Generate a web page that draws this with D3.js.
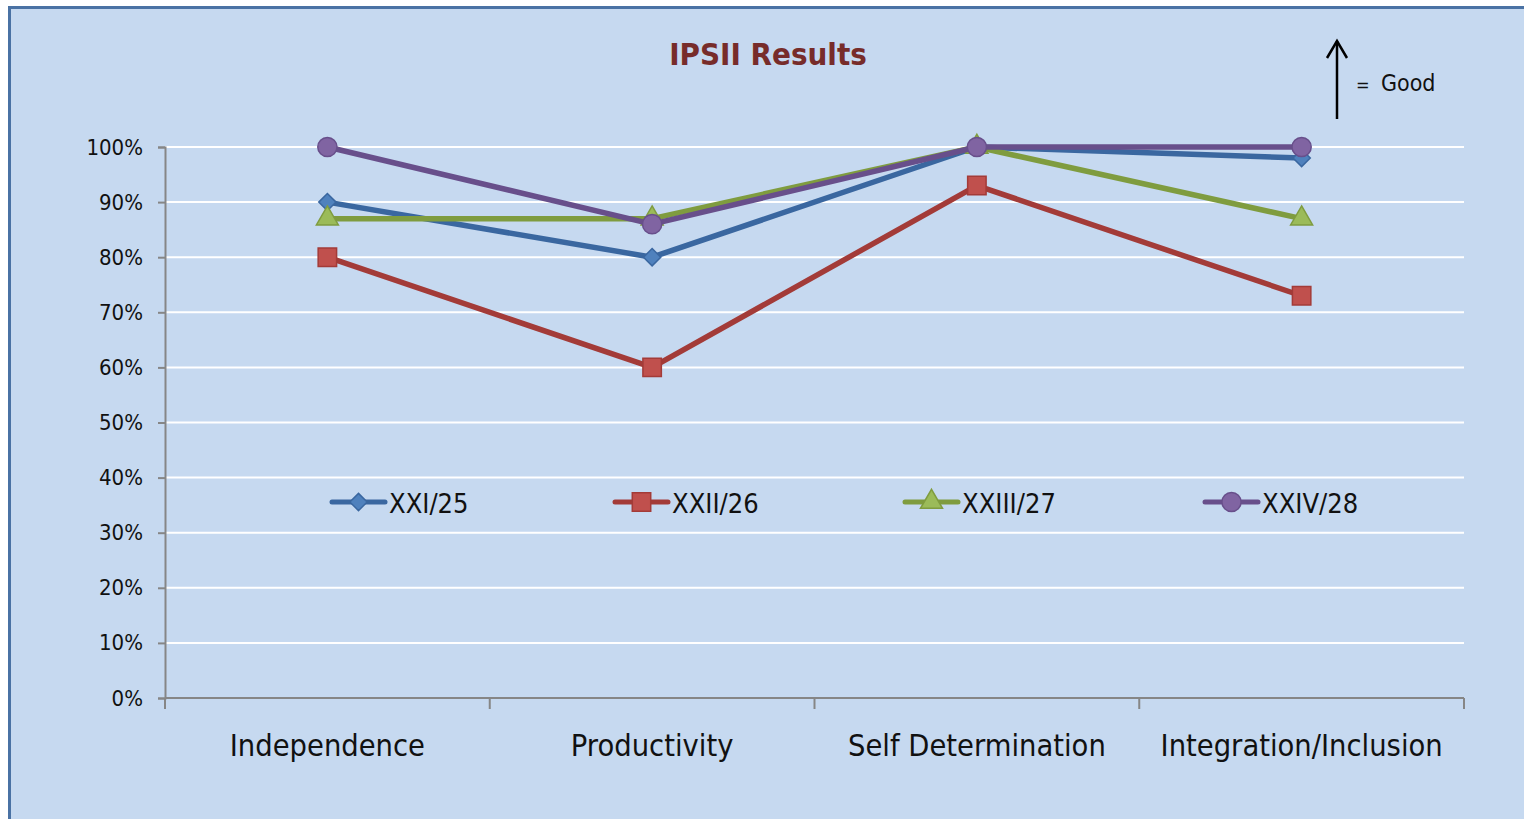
<!doctype html>
<html>
<head>
<script src="https://cdn.jsdelivr.net/npm/d3@7"></script>
<style>
  body { margin: 0; background: #fff; }
  svg { display: block; }
  text { font-family: "Liberation Sans Narrow", "DejaVu Sans Condensed", "Liberation Sans", sans-serif; }
</style>
</head>
<body>
<svg width="1524" height="819"></svg>
<script>
// chart data
const categories = ["Independence", "Productivity", "Self Determination", "Integration/Inclusion"];
const seriesNames = ["XXI/25", "XXII/26", "XXIII/27", "XXIV/28"];
const xxi25 = [90, 80, 100, 98];
const xxii26 = [80, 60, 93, 73];
const xxiii27 = [87, 87, 100, 87];
const xxiv28 = [100, 86, 100, 100];
const yTicks = [0, 10, 20, 30, 40, 50, 60, 70, 80, 90, 100];

const lineColors = ["#3a67a0", "#a33b38", "#7f9c3f", "#684f8b"];
const fillColors = ["#4f81bd", "#c0504d", "#9bbb59", "#8064a2"];
const symbols = [d3.symbolDiamond2, d3.symbolSquare, d3.symbolTriangle, d3.symbolCircle];
const symSize = [190, 340, 210, 290];

const series = [xxi25, xxii26, xxiii27, xxiv28].map((v, i) => ({name: seriesNames[i], values: v, i: i}));

const svg = d3.select("svg");

// panel background + border
svg.append("rect")
  .attr("x", 9.5).attr("y", 7.5).attr("width", 1530).attr("height", 830)
  .attr("fill", "#c6d9f0").attr("stroke", "#4a72a4").attr("stroke-width", 3);

const x = d3.scaleBand().domain(categories).range([165, 1464]);
const y = d3.scaleLinear().domain([0, 100]).range([698, 147]);

// gridlines
svg.append("g").selectAll("line")
  .data(yTicks.filter(d => d > 0))
  .enter().append("line")
    .attr("x1", 165).attr("x2", 1464)
    .attr("y1", d => y(d)).attr("y2", d => y(d))
    .attr("stroke", "#fff").attr("stroke-width", 2);

// y axis
const yAxis = svg.append("g").attr("transform", "translate(165,0)")
  .call(d3.axisLeft(y).tickValues(yTicks).tickFormat(d => d + "%").tickSize(7).tickPadding(15));
yAxis.select(".domain").attr("stroke", "#868686").attr("stroke-width", 2);
yAxis.selectAll(".tick line").attr("stroke", "#868686").attr("stroke-width", 2);
yAxis.selectAll("text").attr("font-size", 22).attr("fill", "#111")
  .style("font-family", "'Liberation Sans Narrow', 'DejaVu Sans Condensed', sans-serif");

// x axis
const xAxis = svg.append("g").attr("transform", "translate(0,698)");
xAxis.append("line").attr("x1", 165).attr("x2", 1464).attr("stroke", "#868686").attr("stroke-width", 2);
const bounds = categories.map(c => x(c)).concat([x.range()[1]]);
xAxis.selectAll(".xt").data(bounds).enter().append("line")
  .attr("x1", d => d).attr("x2", d => d).attr("y1", 0).attr("y2", 11)
  .attr("stroke", "#868686").attr("stroke-width", 2);
xAxis.selectAll(".xl").data(categories).enter().append("text")
  .attr("x", d => x(d) + x.bandwidth() / 2).attr("y", 58)
  .attr("text-anchor", "middle").attr("font-size", 30.5).attr("fill", "#111")
  .text(d => d);

// lines
const line = d3.line()
  .x((d, k) => x(categories[k]) + x.bandwidth() / 2)
  .y(d => y(d));

series.forEach(s => {
  svg.append("path").datum(s.values)
    .attr("fill", "none").attr("stroke", lineColors[s.i]).attr("stroke-width", 5.5)
    .attr("stroke-linejoin", "round")
    .attr("d", line);
  svg.append("g").selectAll("path").data(s.values).enter().append("path")
    .attr("transform", (d, k) => "translate(" + (x(categories[k]) + x.bandwidth() / 2) + "," + y(d) + ")")
    .attr("d", d3.symbol().type(symbols[s.i]).size(symSize[s.i]))
    .attr("fill", fillColors[s.i]).attr("stroke", lineColors[s.i]).attr("stroke-width", 1.5);
});

// legend
const legendX = [332, 615, 905, 1205];
const lg = svg.append("g").attr("transform", "translate(0,502)");
series.forEach(s => {
  const g = lg.append("g").attr("transform", "translate(" + legendX[s.i] + ",0)");
  g.append("line").attr("x1", 0).attr("x2", 53)
    .attr("stroke", lineColors[s.i]).attr("stroke-width", 5).attr("stroke-linecap", "round");
  g.append("path").attr("transform", "translate(26.5,0)")
    .attr("d", d3.symbol().type(symbols[s.i]).size(symSize[s.i]))
    .attr("fill", fillColors[s.i]).attr("stroke", lineColors[s.i]).attr("stroke-width", 1.5);
  g.append("text").attr("x", 57).attr("y", 11)
    .attr("font-size", 27).attr("fill", "#111").text(s.name);
});

// title
svg.append("text").attr("x", 768).attr("y", 65).attr("text-anchor", "middle")
  .attr("font-size", 31).attr("font-weight", "bold").attr("fill", "#772c2a")
  .text("IPSII Results");

// "up = good" note
const note = svg.append("g");
note.append("line").attr("x1", 1337).attr("x2", 1337).attr("y1", 119).attr("y2", 41)
  .attr("stroke", "#000").attr("stroke-width", 2.5);
note.append("path").attr("d", "M1327,58 L1337,41 L1347,58")
  .attr("fill", "none").attr("stroke", "#000").attr("stroke-width", 2.5);
note.append("text").attr("x", 1356).attr("y", 91).attr("font-size", 18).attr("fill", "#111").text("=");
note.append("text").attr("x", 1381).attr("y", 91).attr("font-size", 23).attr("fill", "#111").text("Good");
</script>
</body>
</html>
